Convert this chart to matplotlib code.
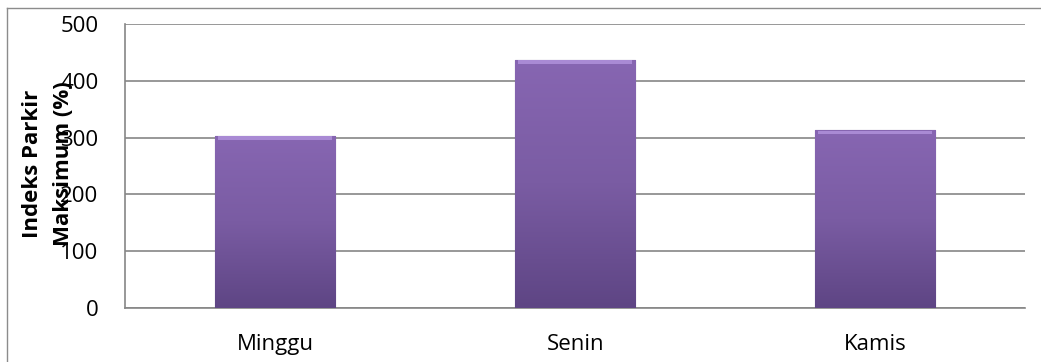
import numpy as np
import matplotlib.pyplot as plt
from matplotlib.colors import LinearSegmentedColormap

days = ['Minggu', 'Senin', 'Kamis']
indeks = [303, 437, 313]
yticks = [0, 100, 200, 300, 400, 500]

plt.rcParams['font.family'] = ['Open Sans', 'DejaVu Sans']

fig = plt.figure(figsize=(10.41, 3.62), dpi=100)
# outer chart border
fig.add_artist(plt.Line2D([0.0067, 1.0], [0.978, 0.978], color='#8c8c8c', lw=1))
fig.add_artist(plt.Line2D([0.0067, 0.0067], [0.0, 0.978], color='#8c8c8c', lw=1))

ax = fig.add_axes([0.120, 0.149, 0.865, 0.785])
x = np.arange(len(days))
bars = ax.bar(x, indeks, width=0.40, color='#7e5fa6', edgecolor='#4f3a6e', lw=0.8, zorder=3)

# soft vertical gradient inside each bar
cmap = LinearSegmentedColormap.from_list('ungu', ['#5e4584', '#7a5ca3', '#8766b2'])
grad = np.linspace(0, 1, 256).reshape(-1, 1)
for b in bars:
    x0, w, h = b.get_x(), b.get_width(), b.get_height()
    im = ax.imshow(grad, cmap=cmap, origin='lower', aspect='auto',
                   extent=(x0, x0 + w, 0, h), zorder=3.5)
    im.set_clip_path(b)
    # light bevel on top edge
    ax.fill_between([x0 + 0.01, x0 + w - 0.01], h - 7, h - 1, color='#a98ad4', zorder=3.6, lw=0)

ax.set_xlim(-0.5, 2.5)
ax.set_ylim(0, 500)
ax.set_yticks(yticks)
ax.set_xticks(x)
ax.set_xticklabels(days, fontsize=16)
ax.tick_params(axis='x', length=0, pad=19)
ax.tick_params(axis='y', length=0, pad=19, labelsize=16)
ax.grid(axis='y', color='#868686', lw=1.2, zorder=0)
for s in ['top', 'right']:
    ax.spines[s].set_visible(False)
ax.spines['left'].set_color('#868686')
ax.spines['bottom'].set_color('#868686')
ax.spines['left'].set_linewidth(1.2)
ax.spines['bottom'].set_linewidth(1.2)

# the label sits over the tick numbers, as in the original chart
fig.text(0.046, 0.548, 'Indeks Parkir\nMaksimum (%)', rotation=90, fontsize=16,
         fontweight='bold', ha='center', va='center', linespacing=1.65)

fig.savefig('out.png', dpi=100)
